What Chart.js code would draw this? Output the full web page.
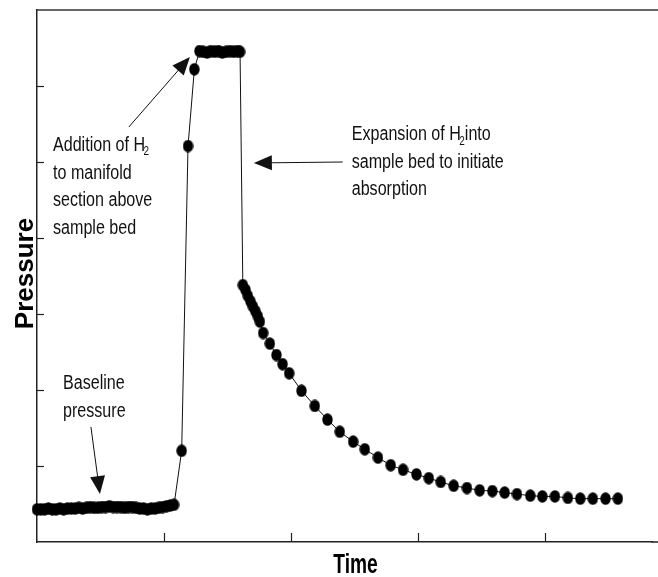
<!DOCTYPE html>
<html>
<head>
<meta charset="utf-8">
<script src="https://cdn.jsdelivr.net/npm/chart.js@4.4.1/dist/chart.umd.min.js"></script>
<style>
html,body{margin:0;padding:0;background:#fff;overflow:hidden;}
#wrap{width:658px;height:577px;}
</style>
</head>
<body>
<div id="wrap"><canvas id="c" width="658" height="577"></canvas></div>
<script>
// ---- data ----
const baselineTime = [0.00,0.03,0.06,0.09,0.12,0.15,0.18,0.21,0.24,0.27,0.30,0.33,0.36,0.39,0.42,0.45,0.48,0.51,0.54,0.57,0.60,0.63,0.66,0.69,0.72,0.75,0.78,0.81,0.84,0.87,0.90,0.93,0.96,0.99,1.02,1.05,1.08];
const baselinePressure = [0.43,0.43,0.43,0.44,0.43,0.43,0.44,0.43,0.44,0.44,0.44,0.45,0.44,0.45,0.46,0.45,0.45,0.46,0.46,0.47,0.46,0.46,0.46,0.45,0.46,0.46,0.45,0.44,0.44,0.43,0.44,0.44,0.45,0.46,0.47,0.48,0.49];
const riseTime = [1.14,1.19,1.24];
const risePressure = [1.20,5.21,6.22];
const plateauTime = [1.28,1.31,1.34,1.37,1.40,1.43,1.46,1.49,1.52,1.55,1.58,1.60];
const plateauPressure = [6.46,6.45,6.44,6.46,6.45,6.46,6.44,6.45,6.46,6.45,6.46,6.45];
const decayTime = [1.622,1.642,1.661,1.681,1.701,1.720,1.740,1.756,1.782,1.835,1.887,1.935,1.987,2.084,2.189,2.289,2.386,2.491,2.583,2.687,2.787,2.884,2.990,3.087,3.181,3.283,3.388,3.488,3.588,3.685,3.782,3.887,3.982,4.081,4.183,4.281,4.380,4.480,4.577];
const decayPressure = [3.38,3.32,3.24,3.17,3.10,3.04,2.97,2.90,2.75,2.61,2.46,2.34,2.22,1.99,1.79,1.61,1.45,1.32,1.22,1.11,1.01,0.95,0.89,0.84,0.79,0.74,0.71,0.68,0.67,0.65,0.63,0.61,0.60,0.60,0.58,0.57,0.57,0.57,0.57];
const xTickValues = [1,2,3,4];
const yTickValues = [1,2,3,4,5,6];
const xTitle = 'Time';
const yTitle = 'Pressure';

// ---- annotations (layout, in data units) ----
const notes = [
  {x:0.126, y:5.145, lines:[['Addition of H','2',''],['to manifold'],['section above'],['sample bed']]},
  {x:2.480, y:5.289, lines:[['Expansion of H','2','into'],['sample bed to initiate'],['absorption']]},
  {x:0.205, y:2.013, lines:[['Baseline'],['pressure']]}
];
const arrows = [
  {from:[0.724,5.461], to:[1.205,6.382]},
  {from:[2.409,5.000], to:[1.709,4.987]},
  {from:[0.425,1.513], to:[0.496,0.632]}
];

const allTime = baselineTime.concat(riseTime, plateauTime, decayTime);
const allPressure = baselinePressure.concat(risePressure, plateauPressure, decayPressure);
const points = allTime.map((t,i)=>({x:t, y:allPressure[i]}));

const FONT = '"Liberation Sans", Arial, Helvetica, sans-serif';
const SX = 0.825;

// slightly tall, blocky marker like the scanned original
const marker = document.createElement('canvas');
marker.width = 11; marker.height = 13;
(function(){
  const m = marker.getContext('2d');
  m.fillStyle = '#000';
  m.beginPath();
  m.ellipse(5.5, 6.5, 5.2, 6.2, 0, 0, Math.PI*2);
  m.fill();
})();

function squeezedText(ctx, str, x, y, font, sx){
  ctx.save();
  ctx.font = font;
  ctx.translate(x, y);
  ctx.scale(sx, 1);
  ctx.fillText(str, 0, 0);
  const w = ctx.measureText(str).width * sx;
  ctx.restore();
  return w;
}

const decor = {
  id:'decor',
  afterDraw(chart){
    const {ctx, chartArea:a, scales:{x, y}} = chart;
    ctx.save();
    // the frame is open on the right: keep the strip right of the plot blank
    ctx.fillStyle = '#fff';
    ctx.fillRect(a.right - 3, a.top + 1, chart.width - a.right + 3, a.bottom - a.top - 2);
    // top frame line and bottom axis continued to the edge
    ctx.strokeStyle = '#333'; ctx.lineWidth = 1.5;
    ctx.beginPath(); ctx.moveTo(a.left, a.top); ctx.lineTo(chart.width, a.top); ctx.stroke();
    ctx.strokeStyle = '#222';
    ctx.beginPath(); ctx.moveTo(a.right - 1, a.bottom); ctx.lineTo(chart.width, a.bottom); ctx.stroke();
    // inward ticks
    ctx.strokeStyle = '#222'; ctx.lineWidth = 1.2;
    xTickValues.forEach(v=>{
      const px = Math.round(x.getPixelForValue(v)) + 0.5;
      ctx.beginPath(); ctx.moveTo(px, a.bottom); ctx.lineTo(px, a.bottom - 9); ctx.stroke();
    });
    yTickValues.forEach(v=>{
      const py = Math.round(y.getPixelForValue(v)) + 0.5;
      ctx.beginPath(); ctx.moveTo(a.left, py); ctx.lineTo(a.left + 7, py); ctx.stroke();
    });
    // arrows
    ctx.strokeStyle = '#111'; ctx.fillStyle = '#111'; ctx.lineWidth = 1;
    arrows.forEach(ar=>{
      const x0 = x.getPixelForValue(ar.from[0]), y0 = y.getPixelForValue(ar.from[1]);
      const x1 = x.getPixelForValue(ar.to[0]), y1 = y.getPixelForValue(ar.to[1]);
      const dx = x1-x0, dy = y1-y0, L = Math.hypot(dx,dy), ux = dx/L, uy = dy/L;
      const hl = 18, hw = 7.5;
      ctx.beginPath(); ctx.moveTo(x0,y0); ctx.lineTo(x1-ux*hl*0.8, y1-uy*hl*0.8); ctx.stroke();
      ctx.beginPath();
      ctx.moveTo(x1,y1);
      ctx.lineTo(x1-ux*hl-uy*hw, y1-uy*hl+ux*hw);
      ctx.lineTo(x1-ux*hl+uy*hw, y1-uy*hl-ux*hw);
      ctx.closePath(); ctx.fill();
    });
    // notes
    ctx.fillStyle = '#111'; ctx.textBaseline = 'alphabetic'; ctx.textAlign = 'left';
    notes.forEach(n=>{
      const px = x.getPixelForValue(n.x), py = y.getPixelForValue(n.y);
      n.lines.forEach((ln,i)=>{
        const by = py + i*27.7;
        let w = squeezedText(ctx, ln[0], px, by, '19.5px '+FONT, SX);
        if (ln.length > 1){
          squeezedText(ctx, ln[1], px + w - 1.5, by + 4.5, '12px '+FONT, SX);
          if (ln[2]) squeezedText(ctx, ln[2], px + w + 4, by, '19.5px '+FONT, SX);
        }
      });
    });
    // axis titles
    ctx.fillStyle = '#000';
    ctx.textAlign = 'center';
    ctx.save();
    ctx.font = 'bold 27px '+FONT;
    ctx.translate(a.left + (chart.width - a.left)/2 + 8, a.bottom + 31);
    ctx.scale(0.71, 1);
    ctx.fillText(xTitle, 0, 0);
    ctx.restore();
    ctx.save();
    ctx.font = 'bold 26px '+FONT;
    ctx.translate(a.left - 4, (a.top + a.bottom)/2 - 2.5);
    ctx.rotate(-Math.PI/2);
    ctx.fillText(yTitle, 0, 0);
    ctx.restore();
    ctx.restore();
  }
};

new Chart(document.getElementById('c'), {
  type:'scatter',
  data:{datasets:[{
    data:points,
    showLine:true,
    borderColor:'#111',
    borderWidth:1,
    tension:0,
    pointStyle:marker,
    pointRadius:5.5,
    pointHoverRadius:5.5,
    pointBackgroundColor:'#000',
    pointBorderWidth:0,
    clip:false
  }]},
  options:{
    responsive:false,
    animation:false,
    devicePixelRatio:1,
    layout:{padding:{top:10,right:0,left:0,bottom:0}},
    plugins:{legend:{display:false}, tooltip:{enabled:false}},
    events:[],
    scales:{
      x:{type:'linear', min:0, max:4.85,
         grid:{display:false, drawTicks:false},
         border:{display:true, color:'#222', width:1.5},
         ticks:{display:false},
         afterFit(s){ s.height = 35; }},
      y:{type:'linear', min:0, max:7,
         grid:{display:false, drawTicks:false},
         border:{display:true, color:'#222', width:1.5},
         ticks:{display:false},
         afterFit(s){ s.width = 37; }}
    }
  },
  plugins:[decor]
});
</script>
</body>
</html>
